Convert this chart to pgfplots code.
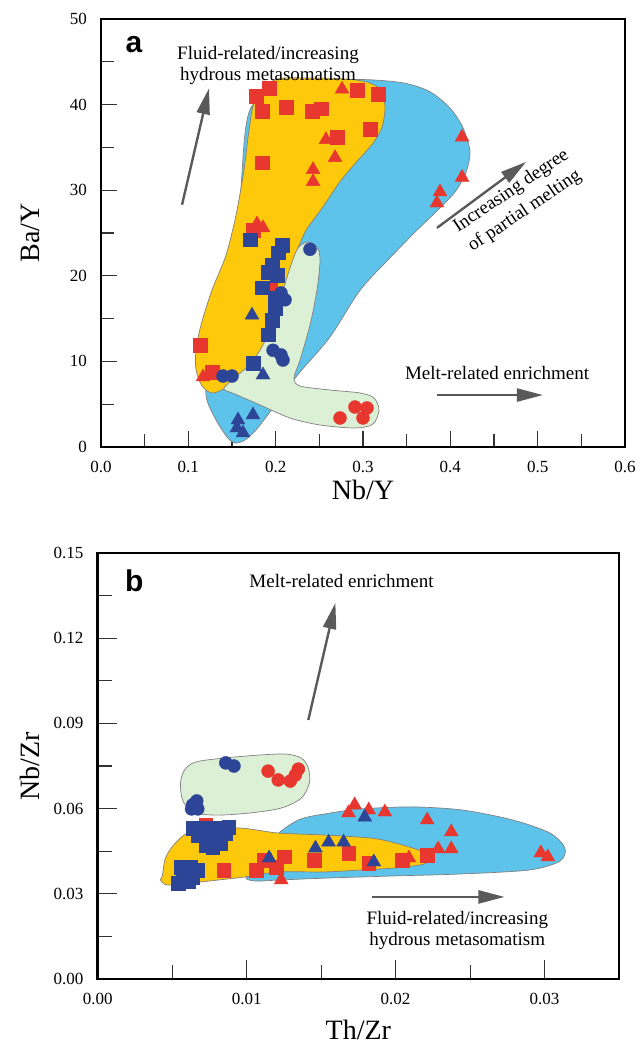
\documentclass[border=0pt]{standalone}
\usepackage{pgfplots}
\pgfplotsset{compat=1.18}
\usepackage{fontspec}
\setmainfont{Liberation Serif}
\setsansfont{Liberation Sans}
\usetikzlibrary{arrows.meta}
\definecolor{redm}{HTML}{E8372F}
\definecolor{bluem}{HTML}{2C4596}
\definecolor{fyellow}{HTML}{FEC90A}
\definecolor{fblue}{HTML}{5EC3EA}
\definecolor{fgreen}{HTML}{DCF0D6}
\definecolor{arrowgray}{HTML}{5A5A5A}
\pgfplotsset{
  panel/.style={scale only axis, clip=false,
    scaled x ticks=false, scaled y ticks=false,
    /pgf/number format/assume math mode=true,
    axis line style={line width=2.4bp, black},
    tick align=inside, xtick pos=bottom, ytick pos=left,
    tick style={line width=1.1bp, black!80},
    tick label style={font=\rmfamily\fontsize{17bp}{17bp}\selectfont},
    xticklabel style={inner sep=0pt, anchor=north, yshift=-14bp},
    yticklabel style={inner sep=0pt, anchor=east, xshift=-14bp},
    label style={font=\rmfamily\fontsize{28bp}{28bp}\selectfont}},
  field/.style={smooth cycle, draw=black!50, line width=0.7bp},
  rsq/.style={only marks, mark=square*, mark size=6.8bp, mark options={fill=redm, draw=redm}},
  bsq/.style={only marks, mark=square*, mark size=6.8bp, mark options={fill=bluem, draw=bluem}},
  rtr/.style={only marks, mark=triangle*, mark size=8bp, mark options={fill=redm, draw=redm}},
  btr/.style={only marks, mark=triangle*, mark size=8bp, mark options={fill=bluem, draw=bluem}},
  rci/.style={only marks, mark=*, mark size=6.5bp, mark options={fill=redm, draw=redm}},
  bci/.style={only marks, mark=*, mark size=6.5bp, mark options={fill=bluem, draw=bluem}},
  arr/.style={arrowgray, line width=2.4bp, -{Triangle[length=26bp, width=13bp]}},
}
\newcommand{\annfont}{\rmfamily\fontsize{19bp}{21bp}\selectfont}
\newcommand{\rotfont}{\rmfamily\fontsize{19bp}{24bp}\selectfont}
\begin{document}
\begin{tikzpicture}
\path[use as bounding box] (0,0) rectangle (640bp,-1047bp);
% ---------------- panel a ----------------
\begin{axis}[panel, at={(101bp,-447bp)}, anchor=south west,
  width=524bp, height=428bp,
  xmin=0, xmax=0.6, ymin=0, ymax=50,
  xtick={0,0.1,0.2,0.3,0.4,0.5,0.6},
  minor xtick={0.05,0.15,0.25,0.35,0.45,0.55},
  xticklabel style={/pgf/number format/.cd, fixed, fixed zerofill, precision=1},
  ytick={0,10,20,30,40,50},
  minor ytick={5,15,25,35,45},
  major tick length=16bp, minor tick length=13bp,
  xlabel={Nb/Y}, ylabel={Ba/Y},
  xlabel style={at={(axis description cs:0.5,-0.1)}, anchor=center},
  ylabel style={at={(axis description cs:-0.1355,0.5)}, anchor=center}]
% blue field
\addplot[field, fill=fblue] coordinates {
 (0.1706,39.4) (0.2164,42.4) (0.2622,42.9) (0.308,42.9) (0.348,42.5)
 (0.3767,41.5) (0.3996,39.6) (0.4145,37.3) (0.4225,34.5) (0.418,32.1)
 (0.4054,29.8) (0.3859,27.7) (0.3596,25.1) (0.3309,22.1) (0.2966,18.3)
 (0.2622,12.85) (0.2279,8.76) (0.2107,6.43) (0.1935,4.09) (0.1775,1.99)
 (0.1649,0.82) (0.1534,0.47) (0.1443,1.17) (0.1305,3.39) (0.1202,6.07)
 (0.1248,10.2) (0.1477,17.2) (0.1592,28.9)};
% yellow field
\addplot[field, fill=fyellow] coordinates {
 (0.1763,40.4) (0.1992,42.9) (0.2393,43.1) (0.2794,43.0) (0.3057,42.6)
 (0.3206,41.7) (0.3252,39.7) (0.3218,37.4) (0.3115,35.5) (0.2943,33.5)
 (0.2737,31.0) (0.2531,27.9) (0.2336,25.1) (0.2221,22.1) (0.2107,17.8)
 (0.1992,13.9) (0.1844,11.3) (0.1626,8.64) (0.142,6.89) (0.1271,6.31)
 (0.1157,7.13) (0.1088,9.0) (0.1088,11.33) (0.1145,14.25) (0.1271,18.34)
 (0.1431,22.4) (0.1546,27.1) (0.1638,32.4) (0.1695,37.0)};
% green field
\addplot[field, fill=fgreen] coordinates {
 (0.2370,23.95) (0.2473,23.36) (0.2508,21.85) (0.2473,18.34) (0.2393,14.25)
 (0.2279,10.16) (0.221,8.06) (0.2279,7.13) (0.2622,6.66) (0.2966,6.31)
 (0.3126,5.72) (0.3183,4.32) (0.3115,2.69) (0.2908,2.22) (0.2508,2.57)
 (0.2164,3.39) (0.1821,4.91) (0.1534,6.19) (0.1408,6.78) (0.15,7.83)
 (0.1729,9.93) (0.1912,13.08) (0.205,17.17) (0.2164,20.91) (0.2256,23.25)};
% red squares
\addplot[rsq] coordinates {
 (0.1775,41.0) (0.1924,41.9) (0.1844,39.25) (0.2118,39.7) (0.2416,39.25)
 (0.2519,39.5) (0.2702,36.2) (0.1844,33.2) (0.2931,41.7) (0.3172,41.2)
 (0.308,37.15) (0.174,25.35) (0.1134,11.9) (0.1271,8.76) (0.1935,18.6)};
% blue squares
\addplot[bsq] coordinates {
 (0.1706,24.2) (0.2073,23.6) (0.2027,22.7) (0.1958,21.3) (0.1912,20.4)
 (0.2015,20.1) (0.1844,18.6) (0.1992,17.4) (0.1992,16.2) (0.1958,14.8)
 (0.1912,13.1) (0.174,9.8)};
% red triangles
\addplot[rtr] coordinates {
 (0.276,41.8) (0.2576,35.9) (0.268,33.8) (0.2428,32.4) (0.2428,31.0)
 (0.1786,26.05) (0.1855,25.6) (0.4134,36.2) (0.4134,31.5) (0.3882,29.8)
 (0.3847,28.5) (0.1168,8.18)};
% blue triangles
\addplot[btr] coordinates {
 (0.1729,15.4) (0.1855,8.41) (0.174,3.74) (0.1569,3.15) (0.1557,2.22)
 (0.1626,1.64)};
% red circles
\addplot[rci] coordinates {
 (0.2737,3.39) (0.2908,4.67) (0.3,3.39) (0.3046,4.56)};
% blue circles
\addplot[bci] coordinates {
 (0.2393,23.1) (0.2061,18.0) (0.2107,17.2) (0.197,11.3) (0.2061,10.75)
 (0.2084,10.16) (0.1397,8.29) (0.15,8.29)};
% arrows
\addplot[arr] coordinates {(0.0928,28.3) (0.1237,41.9)};
\addplot[arr] coordinates {(0.3847,25.6) (0.4867,33.3)};
\addplot[arr] coordinates {(0.3847,6.07) (0.5061,6.07)};
% texts
\node[font=\annfont, align=center] at (axis cs:0.1912,44.63)
  {Fluid-related/increasing\\hydrous metasomatism};
\node[font=\rotfont, align=center, rotate=34] at (axis cs:0.4775,28.7)
  {Increasing degree\\of partial melting};
\node[font=\annfont, anchor=base] at (axis cs:0.4535,7.83) {Melt-related enrichment};
\node[font=\sffamily\bfseries\fontsize{30bp}{30bp}\selectfont] at (axis cs:0.0378,46.96) {a};
\end{axis}
% ---------------- panel b ----------------
\begin{axis}[panel, at={(97.7bp,-979bp)}, anchor=south west,
  width=521.3bp, height=426bp,
  xmin=0, xmax=0.035, ymin=0, ymax=0.15,
  xtick={0,0.01,0.02,0.03},
  minor xtick={0.005,0.015,0.025},
  ytick={0,0.03,0.06,0.09,0.12,0.15},
  minor ytick={0.015,0.045,0.075,0.105,0.135},
  xticklabel style={/pgf/number format/.cd, fixed, fixed zerofill, precision=2},
  yticklabel style={/pgf/number format/.cd, fixed, fixed zerofill, precision=2},
  major tick length=19bp, minor tick length=14bp,
  xlabel={Th/Zr}, ylabel={Nb/Zr},
  xlabel style={at={(axis description cs:0.5,-0.1197)}, anchor=center},
  ylabel style={at={(axis description cs:-0.13,0.5)}, anchor=center}]
% blue field
\addplot[field, fill=fblue] coordinates {
 (0.00995,0.0356) (0.01043,0.0391) (0.01164,0.0489) (0.01347,0.0560)
 (0.01569,0.0585) (0.01772,0.0599) (0.0211,0.0606) (0.02448,0.0595)
 (0.02786,0.0560) (0.03036,0.0514) (0.03137,0.0461) (0.03103,0.0415)
 (0.029,0.0384) (0.02448,0.0370) (0.01996,0.0363) (0.01569,0.0356)
 (0.01232,0.0349) (0.01063,0.0345)};
% yellow field
\addplot[field, fill=fyellow] coordinates {
 (0.00434,0.0363) (0.00455,0.0426) (0.00522,0.0479) (0.00637,0.0521)
 (0.00941,0.0532) (0.01211,0.0514) (0.01522,0.0507) (0.0184,0.0496)
 (0.01996,0.0479) (0.02157,0.0454) (0.02245,0.0430) (0.02191,0.0405)
 (0.01996,0.0391) (0.01772,0.0384) (0.01522,0.0377) (0.01211,0.0377)
 (0.00982,0.0359) (0.00624,0.0338) (0.00468,0.0331) (0.00421,0.0349)};
% green field
\addplot[field, fill=fgreen] coordinates {
 (0.00556,0.0690) (0.00583,0.0736) (0.00657,0.0764) (0.00847,0.0778)
 (0.01097,0.0789) (0.01266,0.0792) (0.01367,0.0778) (0.01414,0.0743)
 (0.01421,0.0690) (0.01367,0.0637) (0.01232,0.0602) (0.01029,0.0585)
 (0.00793,0.0577) (0.00637,0.0588) (0.0057,0.0630)};
% red squares
\addplot[rsq] coordinates {
 (0.00725,0.0542) (0.00847,0.0384) (0.01063,0.0384) (0.01117,0.0419)
 (0.01252,0.0430) (0.01198,0.0394) (0.01455,0.0419) (0.01684,0.0444)
 (0.0182,0.0408) (0.02043,0.0419) (0.02212,0.0437)};
% blue squares
\addplot[bsq] coordinates {
 (0.00637,0.0532) (0.00705,0.0532) (0.00759,0.0532) (0.00826,0.0532)
 (0.0088,0.0535) (0.00671,0.0507) (0.00738,0.0500) (0.00806,0.0507)
 (0.0086,0.0514) (0.00725,0.0472) (0.00772,0.0465) (0.00826,0.0479)
 (0.00556,0.0394) (0.00624,0.0394) (0.00671,0.0384) (0.00576,0.0359)
 (0.00637,0.0359) (0.00542,0.0338) (0.0061,0.0342)};
% red triangles
\addplot[rtr] coordinates {
 (0.01232,0.0349) (0.01684,0.0585) (0.01725,0.0613) (0.0182,0.0595)
 (0.01928,0.0588) (0.02212,0.0560) (0.02374,0.0518) (0.02286,0.0458)
 (0.02374,0.0458) (0.0209,0.0426) (0.02975,0.0444) (0.03022,0.0430)};
% blue triangles
\addplot[btr] coordinates {
 (0.01151,0.0426) (0.01462,0.0461) (0.0155,0.0482) (0.01651,0.0482)
 (0.01793,0.0570) (0.01854,0.0412)};
% red circles
\addplot[rci] coordinates {
 (0.01144,0.0732) (0.01212,0.0701) (0.01293,0.0697) (0.01327,0.0718)
 (0.01347,0.0739)};
% blue circles
\addplot[bci] coordinates {
 (0.0086,0.0761) (0.00915,0.0750) (0.00637,0.0613) (0.00665,0.0627)
 (0.00672,0.0599) (0.0063,0.0599)};
% arrows
\addplot[arr] coordinates {(0.01414,0.0912) (0.01596,0.1324)};
\addplot[arr] coordinates {(0.0184,0.0289) (0.02731,0.0289)};
% texts
\node[font=\annfont, anchor=base] at (axis cs:0.01637,0.138) {Melt-related enrichment};
\node[font=\annfont, align=center] at (axis cs:0.02414,0.01725)
  {Fluid-related/increasing\\hydrous metasomatism};
\node[font=\sffamily\bfseries\fontsize{30bp}{30bp}\selectfont] at (axis cs:0.00245,0.1401) {b};
\end{axis}
\end{tikzpicture}
\end{document}
